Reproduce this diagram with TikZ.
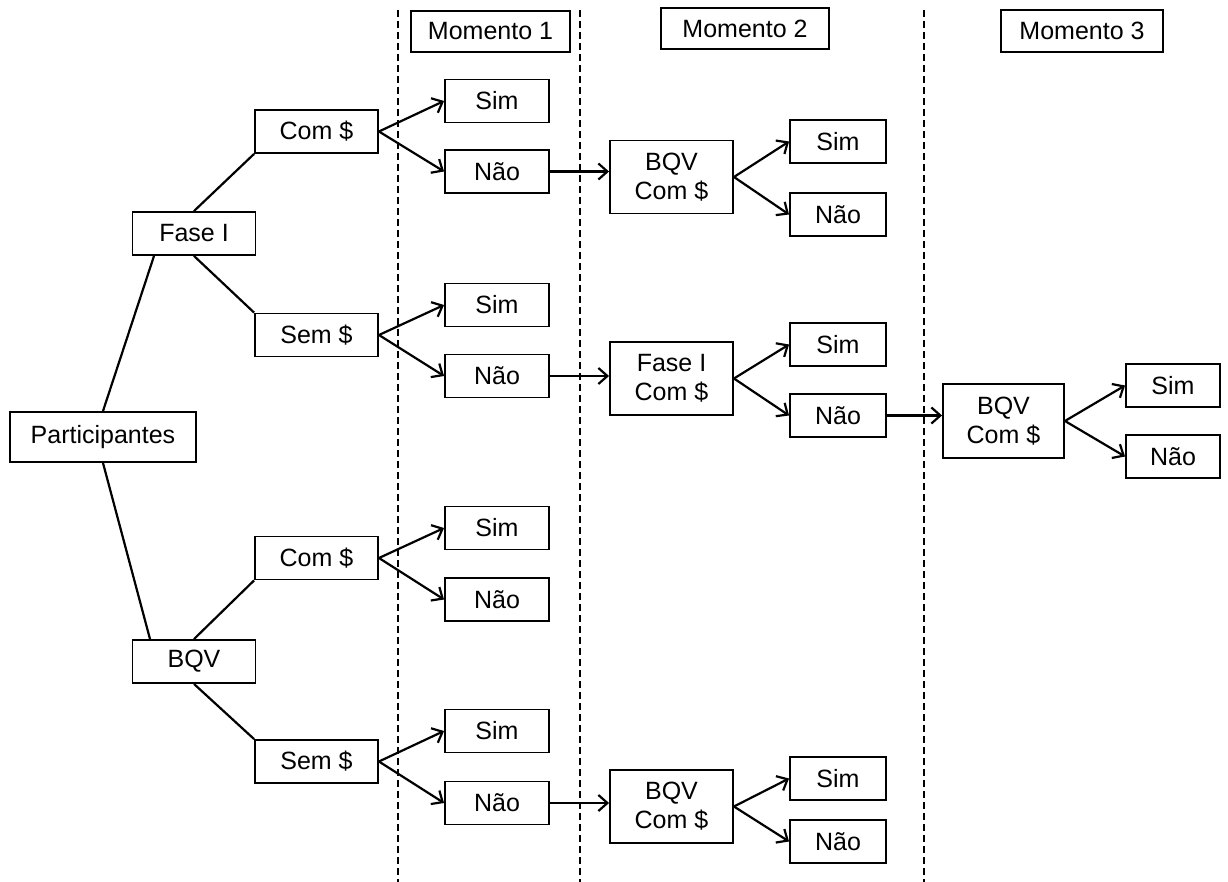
\documentclass[tikz,border=0pt]{standalone}
\usepackage{fontspec}
\setmainfont{Liberation Sans}
\usetikzlibrary{arrows.meta}
\begin{document}
\begin{tikzpicture}[x=1pt,y=-1pt,
  every node/.style={font=\fontsize{25}{29}\selectfont},
  box/.style={draw, line width=1.9pt, inner sep=0pt, align=center, minimum height=43pt, fill=white},
  wA/.style={box, minimum width=123pt},
  wB/.style={box, minimum width=104pt},
  wC/.style={box, minimum width=96pt},
  two/.style={box, minimum width=123pt, minimum height=73pt},
  conn/.style={line width=2.2pt},
  arr/.style={line width=2.2pt, -{Straight Barb[length=9pt,width=16pt,line width=2.2pt]}},
  sep/.style={line width=1.5pt, dash pattern=on 7pt off 4pt}
]
\useasboundingbox (0,0) rectangle (1228,882);
% separators
\draw[sep] (398,10) -- (398,882);
\draw[sep] (580,10) -- (580,882);
\draw[sep] (924,10) -- (924,882);
% moment headers
\node[box, minimum width=159pt, minimum height=41pt] (m1) at (490.5,31.5) {Momento 1};
\node[box, minimum width=168pt, minimum height=41pt] (m2) at (745,28.5) {Momento 2};
\node[box, minimum width=162pt, minimum height=42pt] (m3) at (1082,31) {Momento 3};
% tree
\node[box, minimum width=186pt, minimum height=50pt] (part) at (103,437) {Participantes};
\node[wA] (fase) at (194,233.5) {Fase I};
\node[wA] (bqv) at (194,661.5) {BQV};
\node[wA] (com1) at (316.5,131.5) {Com \$};
\node[wA] (sem1) at (316.5,335) {Sem \$};
\node[wA] (com2) at (316.5,558) {Com \$};
\node[wA] (sem2) at (316.5,761.5) {Sem \$};
\draw[conn] (part.north) -- ([xshift=-40pt]fase.south);
\draw[conn] (part.south) -- ([xshift=-44pt]bqv.north);
\draw[conn] (fase.north) -- (com1.south west);
\draw[conn] (fase.south) -- (sem1.north west);
\draw[conn] (bqv.north) -- (com2.south west);
\draw[conn] (bqv.south) -- (sem2.north west);
% column 1
\node[wB] (s1) at (497,101) {Sim};
\node[wB] (n1) at (497,171.5) {Não};
\node[wB] (s2) at (497,305) {Sim};
\node[wB] (n2) at (497,376) {Não};
\node[wB] (s3) at (497,528) {Sim};
\node[wB] (n3) at (497,599.5) {Não};
\node[wB] (s4) at (497,731) {Sim};
\node[wB] (n4) at (497,803) {Não};
\foreach \p/\s/\n in {com1/s1/n1, sem1/s2/n2, com2/s3/n3, sem2/s4/n4}{
  \draw[arr] (\p.east) -- (\s.west);
  \draw[arr] (\p.east) -- (\n.west);
}
% column 2
\node[two] (b1) at (671.5,177) {BQV\\Com \$};
\node[two] (f2) at (671.5,378.5) {Fase I\\Com \$};
\node[two] (b4) at (671.5,806.5) {BQV\\Com \$};
\node[wC] (s21) at (838,141.5) {Sim};
\node[wC] (n21) at (838,214.5) {Não};
\node[wC] (s22) at (838,344.5) {Sim};
\node[wC] (n22) at (838,415.5) {Não};
\node[wC] (s24) at (838,778.5) {Sim};
\node[wC] (n24) at (838,841.5) {Não};
\draw[arr] (n1.east) -- (n1.east -| b1.west);
\draw[arr] (n2.east) -- (n2.east -| f2.west);
\draw[arr] (n4.east) -- (n4.east -| b4.west);
\foreach \p/\s/\n in {b1/s21/n21, f2/s22/n22, b4/s24/n24}{
  \draw[arr] (\p.east) -- (\s.west);
  \draw[arr] (\p.east) -- (\n.west);
}
% column 3
\node[two, minimum width=121pt, minimum height=74pt] (b3) at (1003.5,421) {BQV\\Com \$};
\node[box, minimum width=94pt] (s3c) at (1173,385.5) {Sim};
\node[box, minimum width=94pt] (n3c) at (1173,456.5) {Não};
\draw[arr] (n22.east) -- (n22.east -| b3.west);
\draw[arr] (b3.east) -- (s3c.west);
\draw[arr] (b3.east) -- (n3c.west);
\end{tikzpicture}
\end{document}
